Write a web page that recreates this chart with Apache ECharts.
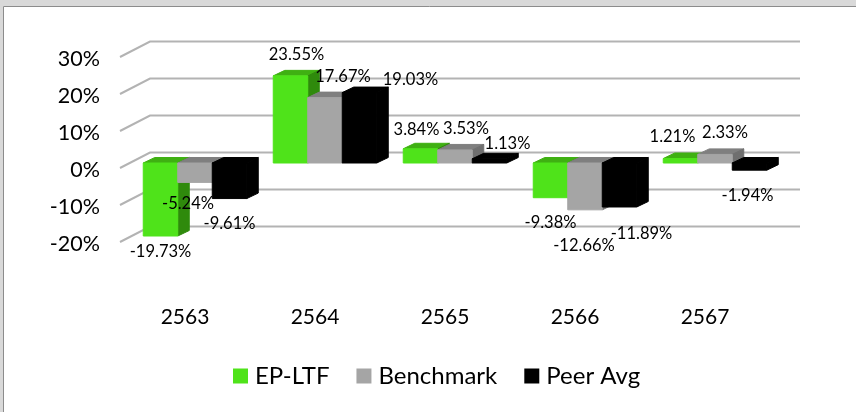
<!DOCTYPE html>
<html>
<head>
<meta charset="utf-8">
<style>
  html, body { margin: 0; padding: 0; background: #fff; }
  #chart { width: 856px; height: 412px; }
</style>
<script src="https://cdn.jsdelivr.net/npm/echarts@6/dist/echarts.min.js"></script>
</head>
<body>
<div id="chart"></div>
<script>
const years = ['2563', '2564', '2565', '2566', '2567']
const yTicks = [-20, -10, 0, 10, 20, 30]
const epLtf = [-19.73, 23.55, 3.84, -9.38, 1.21]
const benchmark = [-5.24, 17.67, 3.53, -12.66, 2.33]
const peerAvg = [-9.61, 19.03, 1.13, -11.89, -1.94]

// where each data label sits, relative to the end of its bar
const labelShift = [
  [[0, 16], [6, -21], [-4, -19], [0, 25], [-8, -22]],
  [[-7, 21], [18, -21], [11, -21], [-1, 36], [10, -22]],
  [[0, 25], [51, -13], [18, -15], [22, 27], [-2, 25]]
]

const FONT = 'Lato'
const GRID = { left: 120, top: 57, width: 650, height: 185 }
const WALL = [30, -15.5]     // floor depth, front edge to back wall
const BAR_OFFSET = [10, -5]  // bars stand a bit behind the front edge
const BAR_DEPTH = [11.5, -5.5]
const BAR_W = 34.5

const faces = [
  { front: '#4fe31a', top: '#3fb012', side: '#2f8a0c' },
  { front: '#a5a5a5', top: '#7f7f7f', side: '#6f6f6f' },
  { front: '#000000', top: '#000000', side: '#000000' }
]

const chart = echarts.init(document.getElementById('chart'))

const poly = (points, fill) => ({
  type: 'polygon',
  shape: { points },
  style: { fill, stroke: fill, lineWidth: 1, lineJoin: 'round' }
})

const barSeries = (name, values, idx) => ({
  name,
  type: 'custom',
  z: 3 + idx,
  itemStyle: { color: faces[idx].front },
  encode: { x: 0, y: 1 },
  data: values.map((v, i) => [i, v]),
  renderItem: (params, api) => {
    const zero = api.coord([api.value(0), 0])
    const end = api.coord([api.value(0), api.value(1)])
    const cx = zero[0] + BAR_OFFSET[0] + (idx - 1) * BAR_W
    const x0 = cx - BAR_W / 2
    const x1 = cx + BAR_W / 2
    const yZero = zero[1] + BAR_OFFSET[1]
    const yEnd = end[1] + BAR_OFFSET[1]
    const yTop = Math.min(yZero, yEnd)
    const yBot = Math.max(yZero, yEnd)
    const [dx, dy] = BAR_DEPTH
    return {
      type: 'group',
      children: [
        poly([[x0, yTop], [x1, yTop], [x1 + dx, yTop + dy], [x0 + dx, yTop + dy]], faces[idx].top),
        poly([[x1, yTop], [x1 + dx, yTop + dy], [x1 + dx, yBot + dy], [x1, yBot]], faces[idx].side),
        poly([[x0, yTop], [x1, yTop], [x1, yBot], [x0, yBot]], faces[idx].front)
      ]
    }
  }
})

const labelSeries = (values, idx) => ({
  type: 'custom',
  z: 10,
  silent: true,
  encode: { x: 0, y: 1 },
  data: values.map((v, i) => [i, v, labelShift[idx][i][0], labelShift[idx][i][1]]),
  renderItem: (params, api) => {
    const pos = api.coord([api.value(0), api.value(1)])
    return {
      type: 'text',
      style: {
        x: pos[0] + BAR_OFFSET[0] + (idx - 1) * BAR_W + api.value(2),
        y: pos[1] + BAR_OFFSET[1] + api.value(3),
        text: api.value(1).toFixed(2) + '%',
        fill: '#000',
        font: '16.5px ' + FONT,
        align: 'center',
        verticalAlign: 'middle'
      }
    }
  }
})

// gridlines: along the back wall, then slanting to the front edge
const wallSeries = {
  type: 'custom',
  z: 1,
  silent: true,
  encode: { y: 0 },
  data: yTicks.map(t => [t]),
  renderItem: (params, api) => {
    const y = api.coord([0, api.value(0)])[1]
    const left = GRID.left
    const right = GRID.left + GRID.width
    return {
      type: 'polyline',
      shape: { points: [[left, y], [left + WALL[0], y + WALL[1]], [right + WALL[0], y + WALL[1]]] },
      style: { fill: 'none', stroke: '#b3b3b3', lineWidth: 2 }
    }
  }
}

const option = {
  backgroundColor: '#fff',
  animation: false,
  textStyle: { fontFamily: FONT },
  grid: GRID,
  legend: {
    data: ['EP-LTF', 'Benchmark', 'Peer Avg'],
    left: 228,
    top: 359,
    icon: 'rect',
    itemWidth: 15,
    itemHeight: 15,
    itemGap: 27,
    textStyle: { fontSize: 24, color: '#000', fontFamily: FONT, padding: [0, 0, 0, 2] }
  },
  xAxis: {
    type: 'category',
    data: years,
    axisLine: { show: false },
    axisTick: { show: false },
    splitLine: { show: false },
    axisLabel: { fontSize: 21, color: '#000', margin: 65, fontFamily: FONT }
  },
  yAxis: {
    type: 'value',
    min: -20,
    max: 30,
    interval: 10,
    axisLine: { show: false },
    axisTick: { show: false },
    splitLine: { show: false },
    // top-aligned with a small line height, drops the text about 2px below the tick
    axisLabel: { fontSize: 21.5, color: '#000', margin: 20, fontFamily: FONT, formatter: '{value}%', verticalAlign: 'top', lineHeight: 4 }
  },
  series: [
    wallSeries,
    barSeries('EP-LTF', epLtf, 0),
    barSeries('Benchmark', benchmark, 1),
    barSeries('Peer Avg', peerAvg, 2),
    labelSeries(epLtf, 0),
    labelSeries(benchmark, 1),
    labelSeries(peerAvg, 2)
  ],
  graphic: [
    { type: 'rect', z: -1, silent: true, shape: { x: 0, y: 0, width: 856, height: 6 }, style: { fill: '#d9d9d9' } },
    { type: 'rect', z: -1, silent: true, shape: { x: 0, y: 0, width: 3, height: 412 }, style: { fill: '#d9d9d9' } },
    { type: 'polyline', z: -1, silent: true, shape: { points: [[3.5, 412], [3.5, 6.5], [856, 6.5]] }, style: { fill: 'none', stroke: '#8c8c8c', lineWidth: 1 } }
  ]
}

chart.setOption(option)
</script>
</body>
</html>
